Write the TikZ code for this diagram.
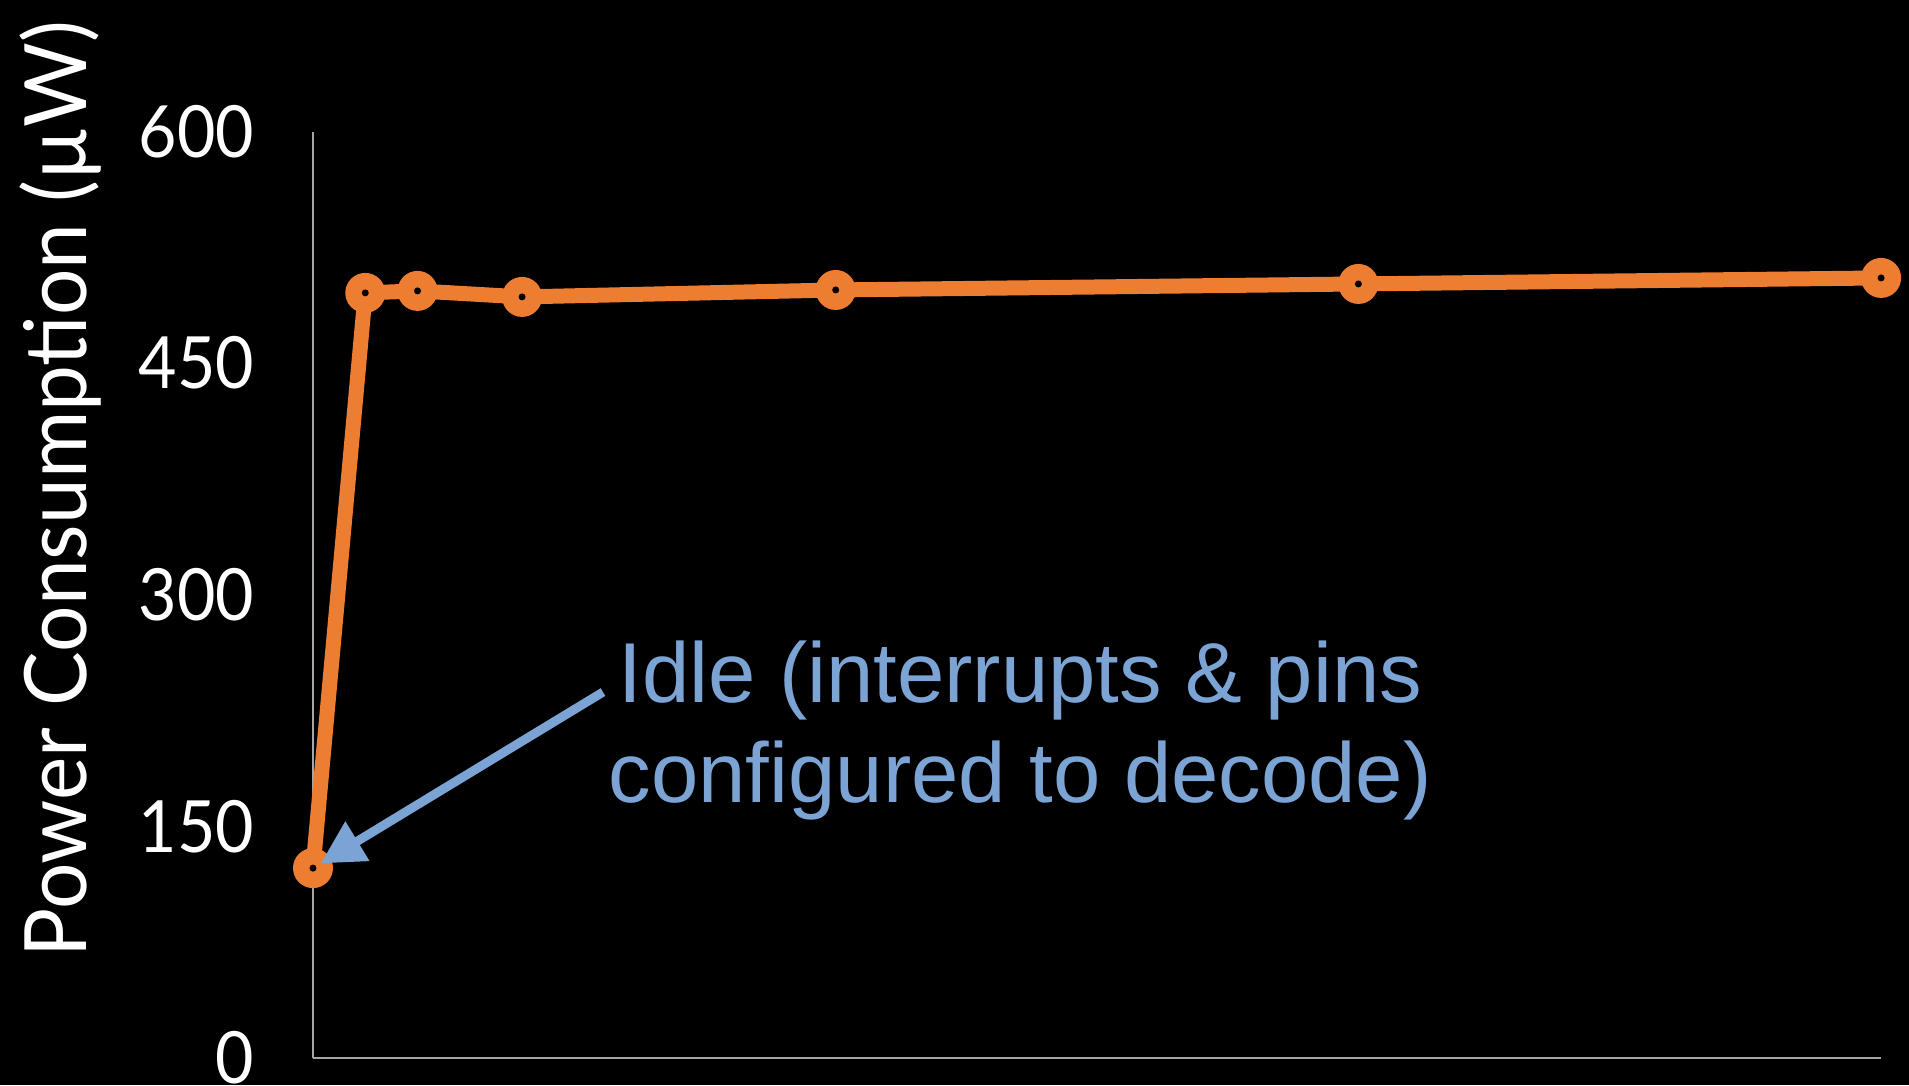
\documentclass[tikz,border=0pt]{standalone}
\usepackage{graphicx}
\usepackage{fontspec}
\usepackage{tikz}
\usetikzlibrary{arrows.meta}
\newfontfamily\gillfont{Lato}
\newfontfamily\arialfont{Liberation Sans}
\definecolor{powerorange}{HTML}{ED7D31}
\definecolor{noteblue}{HTML}{7BA3D4}
\definecolor{axisgray}{HTML}{A6A6A6}

\begin{document}
\begin{tikzpicture}[x=0.5227cm, y=0.01544cm,
    ticklabel/.style={anchor=east, white, inner sep=0pt, font=\gillfont\fontsize{20.5}{24}\selectfont},
    powerline/.style={powerorange, line width=0.15cm, line join=round},
    dotmark/.style={circle, fill=powerorange, minimum size=4mm, inner sep=0pt,
        path picture={\fill[black] (path picture bounding box.center) circle (0.35mm);}},
    notearrow/.style={noteblue, line width=0.09cm, -{Triangle[length=4.3mm, width=4.4mm]}}]
    \fill[black] (-5.988,-17.49) rectangle (30.534,685.2);
    % axes
    \draw[axisgray, line width=0.02cm] (0,0) -- (0,600);
    \draw[axisgray, line width=0.028cm] (0,0) -- (30,0);
    \foreach \v in {0,150,...,600}
        \node[ticklabel] (tick\v) at (-1.11,\v) {\scalebox{0.92}[1]{\v}};
    \node[rotate=90, anchor=base, white, inner sep=0pt, font=\gillfont\fontsize{24.5}{29}\selectfont]
        (ytitle) at (-4.324,368.5) {\resizebox{9.36cm}{\height}{Power Consumption (µW)}};
    % measured points
    \foreach \n/\px/\py in {0/0/123, 1/1/495.5, 2/2/496.8, 3/4/492.9, 4/10/497.4, 5/20/501.3, 6/30/505.2}
        \coordinate (p\n) at (\px,\py);
    \draw[powerline] (p0) -- (p1) -- (p2) -- (p3) -- (p4) -- (p5) -- (p6);
    \foreach \n in {0,...,6}
        \node[dotmark] (m\n) at (p\n) {};
    % annotation
    \node[noteblue, align=center, inner sep=0pt, font=\arialfont\fontsize{24.2}{28.7}\selectfont]
        (idle) at (13.53,212.1) {Idle (interrupts \& pins\\configured to decode)};
    \coordinate (cue) at (5.548,237.0);
    \draw[notearrow, shorten >=0.9mm] (cue) -- (m0.center);
\end{tikzpicture}
\end{document}
